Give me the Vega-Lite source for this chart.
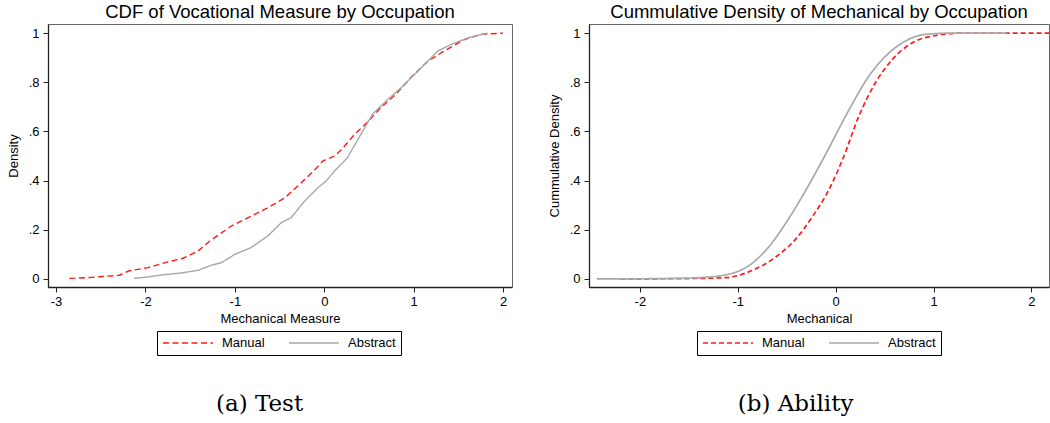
{
  "$schema": "https://vega.github.io/schema/vega-lite/v6.json",
  "padding": {"left": 6, "top": 2, "right": 0, "bottom": 0},
  "background": "white",
  "config": {
    "font": "Liberation Sans",
    "view": {"stroke": "#666666", "strokeWidth": 1},
    "axis": {
      "grid": false,
      "domainColor": "#222222",
      "domainWidth": 1.3,
      "tickColor": "#222222",
      "tickSize": 5,
      "labelFont": "Liberation Sans",
      "labelFontSize": 13,
      "labelColor": "black",
      "titleFont": "Liberation Sans",
      "titleFontSize": 13,
      "titleFontWeight": "normal",
      "titleColor": "black"
    },
    "title": {"font": "Liberation Sans", "fontSize": 18.5, "fontWeight": "normal", "color": "black"},
    "legend": {
      "labelFont": "Liberation Sans",
      "labelFontSize": 13,
      "labelColor": "black"
    }
  },
  "spacing": 34,
  "resolve": {"scale": {"color": "independent", "strokeDash": "independent", "x": "independent", "y": "independent"}, "legend": {"color": "independent", "strokeDash": "independent"}},
  "hconcat": [
    {
      "title": {"text": "(a) Test", "orient": "bottom", "anchor": "middle", "font": "DejaVu Serif", "fontSize": 23, "fontWeight": "normal", "offset": 37},
      "resolve": {"scale": {"color": "independent", "strokeDash": "independent"}, "legend": {"color": "independent", "strokeDash": "independent"}},
      "vconcat": [
        {
          "width": 464,
          "height": 263,
          "title": {"text": "CDF of Vocational Measure by Occupation", "offset": 3},
          "data": {"values": [
            {"x": -2.85, "y": 0.002, "group": "Manual"},
            {"x": -2.6, "y": 0.006, "group": "Manual"},
            {"x": -2.29, "y": 0.015, "group": "Manual"},
            {"x": -2.19, "y": 0.032, "group": "Manual"},
            {"x": -1.97, "y": 0.046, "group": "Manual"},
            {"x": -1.75, "y": 0.069, "group": "Manual"},
            {"x": -1.58, "y": 0.084, "group": "Manual"},
            {"x": -1.41, "y": 0.114, "group": "Manual"},
            {"x": -1.28, "y": 0.154, "group": "Manual"},
            {"x": -1.04, "y": 0.215, "group": "Manual"},
            {"x": -0.85, "y": 0.249, "group": "Manual"},
            {"x": -0.63, "y": 0.29, "group": "Manual"},
            {"x": -0.44, "y": 0.33, "group": "Manual"},
            {"x": -0.26, "y": 0.39, "group": "Manual"},
            {"x": -0.09, "y": 0.45, "group": "Manual"},
            {"x": -0.015, "y": 0.48, "group": "Manual"},
            {"x": 0.115, "y": 0.5, "group": "Manual"},
            {"x": 0.19, "y": 0.525, "group": "Manual"},
            {"x": 0.34, "y": 0.588, "group": "Manual"},
            {"x": 0.49, "y": 0.64, "group": "Manual"},
            {"x": 0.64, "y": 0.7, "group": "Manual"},
            {"x": 0.8, "y": 0.75, "group": "Manual"},
            {"x": 0.97, "y": 0.82, "group": "Manual"},
            {"x": 1.16, "y": 0.886, "group": "Manual"},
            {"x": 1.34, "y": 0.927, "group": "Manual"},
            {"x": 1.57, "y": 0.974, "group": "Manual"},
            {"x": 1.75, "y": 0.995, "group": "Manual"},
            {"x": 2.0, "y": 1.0, "group": "Manual"},
            {"x": -2.13, "y": 0.002, "group": "Abstract"},
            {"x": -1.97, "y": 0.008, "group": "Abstract"},
            {"x": -1.82, "y": 0.016, "group": "Abstract"},
            {"x": -1.6, "y": 0.024, "group": "Abstract"},
            {"x": -1.41, "y": 0.035, "group": "Abstract"},
            {"x": -1.26, "y": 0.056, "group": "Abstract"},
            {"x": -1.15, "y": 0.066, "group": "Abstract"},
            {"x": -1.0, "y": 0.1, "group": "Abstract"},
            {"x": -0.82, "y": 0.127, "group": "Abstract"},
            {"x": -0.63, "y": 0.175, "group": "Abstract"},
            {"x": -0.48, "y": 0.229, "group": "Abstract"},
            {"x": -0.37, "y": 0.249, "group": "Abstract"},
            {"x": -0.22, "y": 0.317, "group": "Abstract"},
            {"x": -0.07, "y": 0.371, "group": "Abstract"},
            {"x": 0.02, "y": 0.398, "group": "Abstract"},
            {"x": 0.115, "y": 0.439, "group": "Abstract"},
            {"x": 0.26, "y": 0.493, "group": "Abstract"},
            {"x": 0.3, "y": 0.52, "group": "Abstract"},
            {"x": 0.41, "y": 0.588, "group": "Abstract"},
            {"x": 0.54, "y": 0.67, "group": "Abstract"},
            {"x": 0.71, "y": 0.73, "group": "Abstract"},
            {"x": 0.86, "y": 0.778, "group": "Abstract"},
            {"x": 1.05, "y": 0.846, "group": "Abstract"},
            {"x": 1.27, "y": 0.927, "group": "Abstract"},
            {"x": 1.42, "y": 0.954, "group": "Abstract"},
            {"x": 1.61, "y": 0.981, "group": "Abstract"},
            {"x": 1.83, "y": 1.0, "group": "Abstract"}
          ]},
          "mark": {"type": "line", "strokeWidth": 1.4, "clip": true},
          "encoding": {
            "x": {"field": "x", "type": "quantitative", "scale": {"domain": [-3.09, 2.1], "nice": false, "zero": false},
                  "axis": {"values": [-3, -2, -1, 0, 1, 2], "title": "Mechanical Measure", "labelExpr": "'' + datum.value", "titlePadding": 4, "labelPadding": 3}},
            "y": {"field": "y", "type": "quantitative", "scale": {"domain": [-0.033, 1.037], "nice": false, "zero": false},
                  "axis": {"values": [0, 0.2, 0.4, 0.6, 0.8, 1], "title": "Density", "labelExpr": "datum.value == 0 ? '0' : (datum.value == 1 ? '1' : replace(format(datum.value, '.1f'), '0.', '.'))", "titlePadding": 8, "labelPadding": 4}},
            "color": {"field": "group", "type": "nominal", "scale": {"domain": ["Manual", "Abstract"], "range": ["#ff1a1a", "#a8a8a8"]},
                      "legend": {"orient": "none", "legendX": 109, "legendY": 307, "direction": "horizontal", "title": null, "strokeColor": "black", "padding": 5, "symbolType": "stroke", "symbolSize": 2500, "clipHeight": 14, "symbolStrokeWidth": 1.6, "labelOffset": 8, "columnPadding": 23}},
            "strokeDash": {"field": "group", "type": "nominal", "scale": {"domain": ["Manual", "Abstract"], "range": [[6, 3.5], [1, 0]]},
                      "legend": {"orient": "none", "legendX": 109, "legendY": 307, "direction": "horizontal", "title": null, "strokeColor": "black", "padding": 5, "symbolType": "stroke", "symbolSize": 2500, "clipHeight": 14, "symbolStrokeWidth": 1.6, "labelOffset": 8, "columnPadding": 23}},
            "order": {"field": "x", "type": "quantitative"}
          }
        }
      ]
    },
    {
      "title": {"text": "(b) Ability", "orient": "bottom", "anchor": "middle", "font": "DejaVu Serif", "fontSize": 23, "fontWeight": "normal", "dx": -3, "offset": 37},
      "resolve": {"scale": {"color": "independent", "strokeDash": "independent"}, "legend": {"color": "independent", "strokeDash": "independent"}},
      "vconcat": [
        {
          "width": 460,
          "height": 263,
          "title": {"text": "Cummulative Density of Mechanical by Occupation", "offset": 3},
          "data": {"values": [
            {"x": -2.2, "y": 0.0, "group": "Manual"},
            {"x": -1.6, "y": 0.001, "group": "Manual"},
            {"x": -1.13, "y": 0.005, "group": "Manual"},
            {"x": -0.86, "y": 0.033, "group": "Manual"},
            {"x": -0.62, "y": 0.087, "group": "Manual"},
            {"x": -0.41, "y": 0.161, "group": "Manual"},
            {"x": -0.24, "y": 0.252, "group": "Manual"},
            {"x": -0.07, "y": 0.362, "group": "Manual"},
            {"x": 0.08, "y": 0.495, "group": "Manual"},
            {"x": 0.235, "y": 0.66, "group": "Manual"},
            {"x": 0.41, "y": 0.8, "group": "Manual"},
            {"x": 0.58, "y": 0.893, "group": "Manual"},
            {"x": 0.78, "y": 0.96, "group": "Manual"},
            {"x": 1.02, "y": 0.99, "group": "Manual"},
            {"x": 1.3, "y": 1.0, "group": "Manual"},
            {"x": 2.18, "y": 1.0, "group": "Manual"},
            {"x": -2.44, "y": 0.0, "group": "Abstract"},
            {"x": -1.8, "y": 0.001, "group": "Abstract"},
            {"x": -1.4, "y": 0.005, "group": "Abstract"},
            {"x": -1.13, "y": 0.016, "group": "Abstract"},
            {"x": -0.89, "y": 0.053, "group": "Abstract"},
            {"x": -0.69, "y": 0.127, "group": "Abstract"},
            {"x": -0.48, "y": 0.245, "group": "Abstract"},
            {"x": -0.28, "y": 0.378, "group": "Abstract"},
            {"x": -0.105, "y": 0.505, "group": "Abstract"},
            {"x": 0.133, "y": 0.685, "group": "Abstract"},
            {"x": 0.34, "y": 0.825, "group": "Abstract"},
            {"x": 0.51, "y": 0.906, "group": "Abstract"},
            {"x": 0.71, "y": 0.967, "group": "Abstract"},
            {"x": 0.92, "y": 0.995, "group": "Abstract"},
            {"x": 1.2, "y": 1.0, "group": "Abstract"},
            {"x": 1.75, "y": 1.0, "group": "Abstract"}
          ]},
          "mark": {"type": "line", "strokeWidth": 1.7, "interpolate": "monotone", "clip": true},
          "encoding": {
            "x": {"field": "x", "type": "quantitative", "scale": {"domain": [-2.52, 2.18], "nice": false, "zero": false},
                  "axis": {"values": [-2, -1, 0, 1, 2], "title": "Mechanical", "labelExpr": "'' + datum.value", "titlePadding": 4, "labelPadding": 3}},
            "y": {"field": "y", "type": "quantitative", "scale": {"domain": [-0.033, 1.037], "nice": false, "zero": false},
                  "axis": {"values": [0, 0.2, 0.4, 0.6, 0.8, 1], "title": "Cummulative Density", "labelExpr": "datum.value == 0 ? '0' : (datum.value == 1 ? '1' : replace(format(datum.value, '.1f'), '0.', '.'))", "titlePadding": 8, "labelPadding": 4}},
            "color": {"field": "group", "type": "nominal", "scale": {"domain": ["Manual", "Abstract"], "range": ["#ff1a1a", "#a8a8a8"]},
                      "legend": {"orient": "none", "legendX": 108, "legendY": 307, "direction": "horizontal", "title": null, "strokeColor": "black", "padding": 5, "symbolType": "stroke", "symbolSize": 2500, "clipHeight": 14, "symbolStrokeWidth": 1.6, "labelOffset": 8, "columnPadding": 23}},
            "strokeDash": {"field": "group", "type": "nominal", "scale": {"domain": ["Manual", "Abstract"], "range": [[5, 3], [1, 0]]},
                      "legend": {"orient": "none", "legendX": 108, "legendY": 307, "direction": "horizontal", "title": null, "strokeColor": "black", "padding": 5, "symbolType": "stroke", "symbolSize": 2500, "clipHeight": 14, "symbolStrokeWidth": 1.6, "labelOffset": 8, "columnPadding": 23}},
            "order": {"field": "x", "type": "quantitative"}
          }
        }
      ]
    }
  ]
}
